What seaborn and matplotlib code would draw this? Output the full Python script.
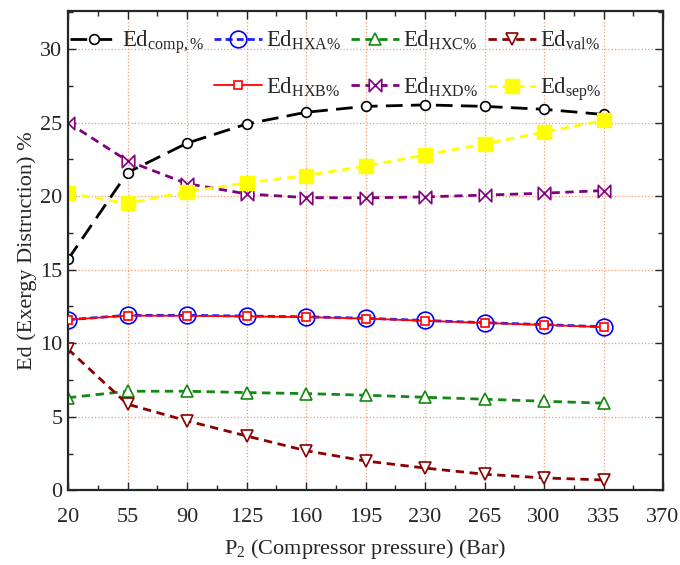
import numpy as np
import pandas as pd
import seaborn as sns
import matplotlib.pyplot as plt
from matplotlib.path import Path
from matplotlib.lines import Line2D

# compressor pressure (bar)
p2 = [20, 55, 90, 125, 160, 195, 230, 265, 300, 335]

# exergy destruction shares (%)
ed_comp = [15.7, 21.6, 23.6, 24.9, 25.7, 26.1, 26.2, 26.1, 25.9, 25.55]
ed_hxa = [11.6, 11.9, 11.9, 11.85, 11.8, 11.7, 11.55, 11.4, 11.27, 11.12]
ed_hxb = [11.6, 11.88, 11.87, 11.83, 11.78, 11.68, 11.53, 11.38, 11.25, 11.1]
ed_hxc = [6.3, 6.74, 6.74, 6.65, 6.58, 6.47, 6.33, 6.2, 6.06, 5.93]
ed_val = [9.6, 5.86, 4.73, 3.7, 2.7, 2.0, 1.52, 1.1, 0.85, 0.71]
ed_hxd = [25.0, 22.4, 20.85, 20.15, 19.9, 19.88, 19.95, 20.07, 20.2, 20.38]
ed_sep = [20.2, 19.5, 20.3, 20.9, 21.4, 22.05, 22.8, 23.55, 24.35, 25.15]

x_ticks = [20, 55, 90, 125, 160, 195, 230, 265, 300, 335, 370]
y_ticks = [0, 5, 10, 15, 20, 25, 30]

sns.set_style("ticks")
plt.rcParams['font.family'] = ['Liberation Serif', 'DejaVu Serif']
plt.rcParams['mathtext.fontset'] = 'custom'
plt.rcParams['mathtext.rm'] = 'Liberation Serif'
plt.rcParams['mathtext.it'] = 'Liberation Serif:italic'

df = pd.DataFrame({"p2": p2, "comp": ed_comp, "hxa": ed_hxa, "hxb": ed_hxb,
                   "hxc": ed_hxc, "val": ed_val, "hxd": ed_hxd, "sep": ed_sep})

bowtie = Path([(-1, 1), (1, -1), (1, 1), (-1, -1), (-1, 1)],
              [Path.MOVETO, Path.LINETO, Path.LINETO, Path.LINETO, Path.CLOSEPOLY])

fig = plt.figure(figsize=(6.8, 5.65), dpi=100)
ax = fig.add_axes([0.1, 0.132, 0.875, 0.849])

# (column, label, line kwargs)
series = [
    ("comp", r"Ed$_{\rm comp,\%}$", dict(color="black", lw=2, ls=(0, (6, 3)), marker="o", ms=7,
                                         mfc="white", mec="black", mew=1.2)),
    ("hxa", r"Ed$_{\rm HXA\%}$", dict(color="#1f1fff", lw=2, ls=(0, (2.5, 1.5)), marker="o", ms=12,
                                      mfc="none", mec="blue", mew=1.2)),
    ("hxb", r"Ed$_{\rm HXB\%}$", dict(color="red", lw=1.3, ls="-", marker="s", ms=6,
                                      mfc="white", mec="red", mew=1.2)),
    ("hxc", r"Ed$_{\rm HXC\%}$", dict(color="#128a12", lw=2, ls=(0, (3, 2)), marker="^", ms=9,
                                      mfc="white", mec="#128a12", mew=1.2)),
    ("hxd", r"Ed$_{\rm HXD\%}$", dict(color="#800080", lw=2, ls=(0, (3, 2)), marker=bowtie, ms=9,
                                      mfc="white", mec="#800080", mew=1.2)),
    ("sep", r"Ed$_{\rm sep\%}$", dict(color="#ffff00", lw=2, ls=(0, (3, 2)), marker="s", ms=10,
                                      mfc="#ffff00", mec="#ffff00", mew=1)),
    ("val", r"Ed$_{\rm val\%}$", dict(color="#8b0000", lw=2, ls=(0, (3, 2)), marker="v", ms=8,
                                      mfc="white", mec="#8b0000", mew=1.2)),
]

handles = {}
for col, lab, kw in series:
    sns.lineplot(data=df, x="p2", y=col, ax=ax, legend=False, **kw)
    handles[col] = ax.lines[-1]
    handles[col].set_label(lab)

# hxb drawn on top of hxa
handles["hxb"].set_zorder(3)

ax.set_xlim(20, 370)
ax.set_ylim(0, 32.6)
ax.set_xticks(x_ticks)
ax.set_xticks([t + 17.5 for t in x_ticks[:-1]], minor=True)
ax.set_yticks(y_ticks)
ax.set_yticks([t + 2.5 for t in y_ticks], minor=True)
ax.tick_params(which="both", direction="in", top=True, right=True, labelsize=16)
ax.tick_params(axis="y", pad=4)
ax.tick_params(axis="x", pad=13)
ax.tick_params(which="major", length=6, width=1)
ax.tick_params(which="minor", length=3.5, width=1)
for s in ax.spines.values():
    s.set_linewidth(1.6)
ax.grid(True, which="major", color="#f39a6b", ls=":", lw=0.9)
ax.set_axisbelow(True)

ax.set_xlabel(r"P$_2$ (Compressor pressure) (Bar)", fontsize=16)
ax.set_ylabel("Ed (Exergy Distruction) %", fontsize=16)
ax.xaxis.set_label_coords(0.5, -0.097)
ax.yaxis.set_label_coords(-0.052, 0.5)

blank = Line2D([], [], alpha=0)
order = [handles["comp"], blank, handles["hxa"], handles["hxb"],
         handles["hxc"], handles["hxd"], handles["val"], handles["sep"]]
labels = [h.get_label() if h is not blank else "" for h in order]
ax.legend(order, labels, ncol=4, loc="upper left", bbox_to_anchor=(-0.012, 0.982),
          frameon=False, fontsize=16.5, handlelength=2.1, handletextpad=0.15,
          columnspacing=0.45, labelspacing=1.0, borderaxespad=0.0, borderpad=0.4)

fig.savefig("out.png", dpi=100)
